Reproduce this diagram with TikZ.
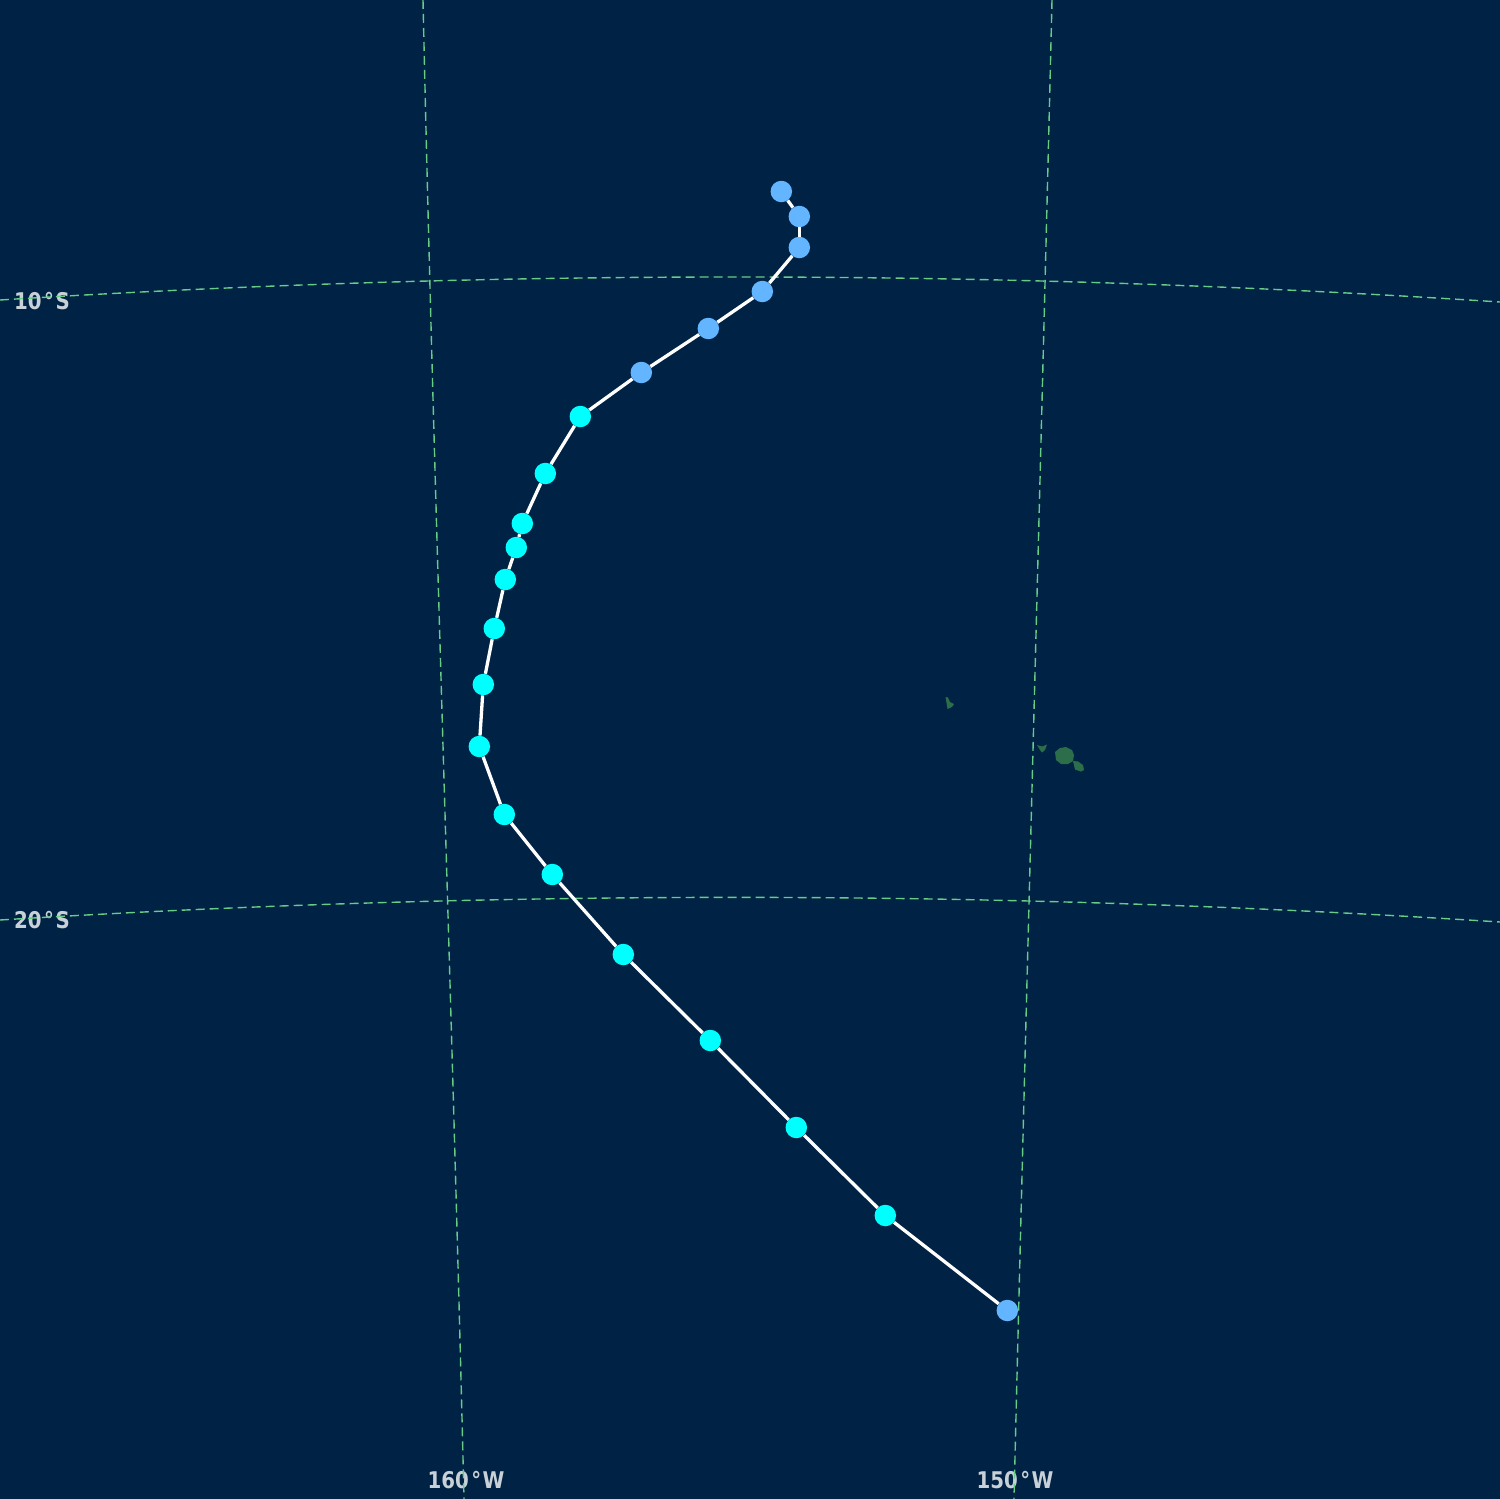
\documentclass[tikz,border=0pt]{standalone}
\usepackage{fontspec}
\setmainfont{DejaVu Sans}
\newfontfamily\labfont[FakeStretch=0.86]{DejaVu Sans Bold}
\newcommand{\dg}{\kern2.5pt°\kern1.5pt}
\definecolor{bg}{HTML}{002244}
\definecolor{grat}{HTML}{66CC88}
\definecolor{landc}{HTML}{2D6E4A}
\definecolor{lab}{HTML}{C8D0D8}
\definecolor{ptblue}{HTML}{64B5FF}
\definecolor{ptcyan}{HTML}{00FFFF}
\tikzset{
  gratline/.style={draw=grat,line width=1.4pt,dash pattern=on 9pt off 5pt},
  land/.style={fill=landc,draw=none},
  maplabel/.style={text=lab,font=\labfont\fontsize{23}{23}\selectfont,inner sep=0pt,anchor=center},
  track/.style={draw=white,line width=3.3pt},
  bluept/.style={circle,fill=ptblue,draw=none,minimum size=21.5pt,inner sep=0pt},
  cyanpt/.style={circle,fill=ptcyan,draw=none,minimum size=21.5pt,inner sep=0pt}
}
\begin{document}
\begin{tikzpicture}[x=1pt,y=-1pt]
\useasboundingbox (0,0) rectangle (1500,1499);
\fill[bg] (0,0) rectangle (1500,1499);
% labels
\node[maplabel] (l10) at (42,301) {10\dg S};
\node[maplabel] (l20) at (42,920) {20\dg S};
\node[maplabel] (l160) at (466,1480) {160\dg W};
\node[maplabel] (l150) at (1015,1480) {150\dg W};
% graticule
\draw[gratline] (423,0) .. controls (434,500) and (452,1000) .. (464,1499);
\draw[gratline] (1052,0) .. controls (1040,500) and (1026,1000) .. (1014,1499);
\draw[gratline] (0,300) .. controls (500,268.7) and (1000,269.3) .. (1500,302);
\draw[gratline] (0,920) .. controls (500,889.2) and (1000,889.8) .. (1500,922);
% land
\fill[land] (945.5,697) -- (948,697.5) -- (950,702) -- (954,704) -- (952,707) -- (947.5,709) -- (946.5,703) -- cycle;
\fill[land] (1037,745) -- (1042,746.5) -- (1047,744.5) -- (1045,750) -- (1042,752.5) -- (1040,750) -- cycle;
\fill[land] (1055,752) -- (1060,748) -- (1066,747) -- (1072,750) -- (1074,755) -- (1073,761) -- (1068,764) -- (1061,764) -- (1056,760) -- cycle;
\fill[land] (1073,761) -- (1078,761.5) -- (1083,765) -- (1084,770) -- (1081,771.5) -- (1075,769.5) -- cycle;
\begin{scope}[yshift=-0.5pt,xshift=0.3pt]
% track points
\node[bluept] (p1) at (781,191) {};
\node[bluept] (p2) at (799,216) {};
\node[bluept] (p3) at (799,247) {};
\node[bluept] (p4) at (762,291) {};
\node[bluept] (p5) at (708,328) {};
\node[bluept] (p6) at (641,372) {};
\node[cyanpt] (p7) at (580,416) {};
\node[cyanpt] (p8) at (545,473) {};
\node[cyanpt] (p9) at (522,523) {};
\node[cyanpt] (p10) at (516,547) {};
\node[cyanpt] (p11) at (505,579) {};
\node[cyanpt] (p12) at (494,628) {};
\node[cyanpt] (p13) at (483,684) {};
\node[cyanpt] (p14) at (479,746) {};
\node[cyanpt] (p15) at (504,814) {};
\node[cyanpt] (p16) at (552,874) {};
\node[cyanpt] (p17) at (623,954) {};
\node[cyanpt] (p18) at (710,1040) {};
\node[cyanpt] (p19) at (796,1127) {};
\node[cyanpt] (p20) at (885,1215) {};
\node[bluept] (p21) at (1007,1310) {};
% track
\foreach \a/\b in {1/2,2/3,3/4,4/5,5/6,6/7,7/8,8/9,9/10,10/11,11/12,12/13,13/14,14/15,15/16,16/17,17/18,18/19,19/20,20/21}
  \draw[track] (p\a) -- (p\b);
\end{scope}
\end{tikzpicture}
\end{document}
